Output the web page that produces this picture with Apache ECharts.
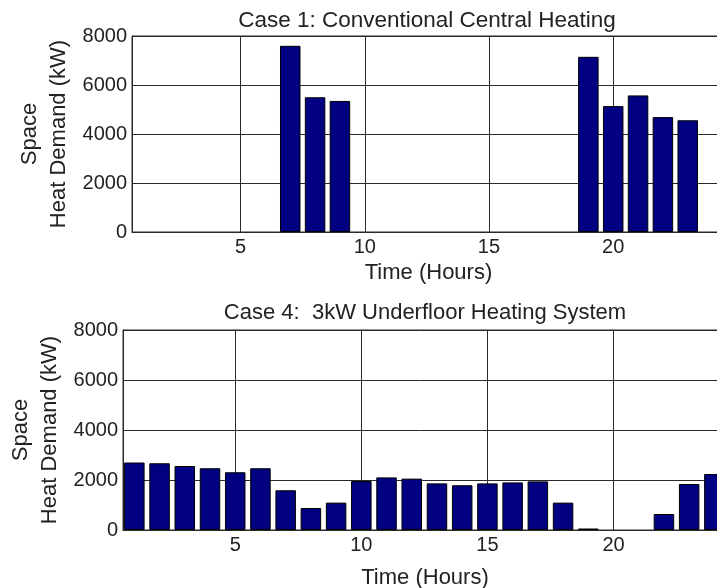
<!DOCTYPE html>
<html>
<head>
<meta charset="utf-8">
<script src="https://cdn.jsdelivr.net/npm/echarts@6/dist/echarts.min.js"></script>
<style>
html,body{margin:0;padding:0;background:#fff;}
#chart{width:717px;height:588px;}
</style>
</head>
<body>
<div id="chart"></div>
<script>
// ---- data ----
var hours = [1,2,3,4,5,6,7,8,9,10,11,12,13,14,15,16,17,18,19,20,21,22,23,24];
var case1Demand = [0,0,0,0,0,0,7600,5500,5350,0,0,0,0,0,0,0,0,0,7150,5140,5575,4690,4560,0];
var case4Demand = [2700,2670,2560,2470,2310,2470,1590,880,1095,1960,2105,2055,1865,1790,1865,1905,1945,1095,60,0,0,640,1840,2240];
var xTickValues = [5,10,15,20];
var yTicks = [0,2000,4000,6000,8000];
var title1 = 'Case 1: Conventional Central Heating';
var title4 = 'Case 4:  3kW Underfloor Heating System';
var xName = 'Time (Hours)';
var yName = 'Space\nHeat Demand (kW)';

// zero-height bars are not drawn
function pairs(vals){ return hours.map(function(h,i){ return vals[i] === 0 ? [h, '-'] : [h, vals[i]]; }); }

var FONT = 'Liberation Sans, Arial, Helvetica, sans-serif';
var TXT = '#222';
var LINE = '#2a2a2a';

function xAxisCfg(idx, min, gap){
  return {
    type:'value', gridIndex: idx, min: min, max: 24.5,
    name: xName, nameLocation:'middle', nameGap: gap, nameMoveOverlap:false,
    nameTextStyle:{fontFamily:FONT, fontSize:22, color:TXT},
    axisLine:{show:true, lineStyle:{color:LINE, width:1}},
    axisTick:{show:false, customValues: xTickValues},
    axisLabel:{customValues: xTickValues, fontFamily:FONT, fontSize:20, color:TXT, margin:5},
    splitLine:{show:true, lineStyle:{color:LINE, width:1}}
  };
}
function yAxisCfg(idx, gap){
  return {
    type:'value', gridIndex: idx, min:0, max:8000, interval:2000,
    name: yName, nameLocation:'middle', nameGap: gap, nameRotate: 90, nameMoveOverlap:false,
    nameTextStyle:{fontFamily:FONT, fontSize:22, color:TXT, lineHeight:29, align:'center'},
    axisLine:{show:true, lineStyle:{color:LINE, width:1}},
    axisTick:{show:false},
    axisLabel:{fontFamily:FONT, fontSize:20, color:TXT, margin:5, formatter:function(v){ return String(v); }},
    splitLine:{show:true, lineStyle:{color:LINE, width:1}}
  };
}
function barSeries(idx, vals){
  return {
    type:'bar', xAxisIndex: idx, yAxisIndex: idx, data: pairs(vals),
    barWidth: 20.5,
    itemStyle:{color:'#000080', borderColor:'#000', borderWidth:1},
    silent:true, animation:false
  };
}

var chart = echarts.init(document.getElementById('chart'), null, {renderer:'canvas'});
chart.setOption({
  animation:false,
  backgroundColor:'#fff',
  grid:[
    {left:132, top:36, width:593, height:196, outerBoundsMode:'none', containLabel:false, show:true, borderColor:LINE, borderWidth:1, backgroundColor:'#fff'},
    {left:123, top:330, width:604, height:200, outerBoundsMode:'none', containLabel:false, show:true, borderColor:LINE, borderWidth:1, backgroundColor:'#fff'}
  ],
  xAxis:[ xAxisCfg(0, 0.63, 30), xAxisCfg(1, 0.55, 37) ],
  yAxis:[ yAxisCfg(0, 59), yAxisCfg(1, 59) ],
  series:[ barSeries(0, case1Demand), barSeries(1, case4Demand) ],
  graphic:[
    {type:'text', x:427, y:9, style:{text:title1, font:'22.5px ' + FONT, fill:TXT, textAlign:'center', textVerticalAlign:'top'}},
    {type:'text', x:425, y:302, style:{text:title4, font:'22px ' + FONT, fill:TXT, textAlign:'center', textVerticalAlign:'top'}}
  ]
});
</script>
</body>
</html>
